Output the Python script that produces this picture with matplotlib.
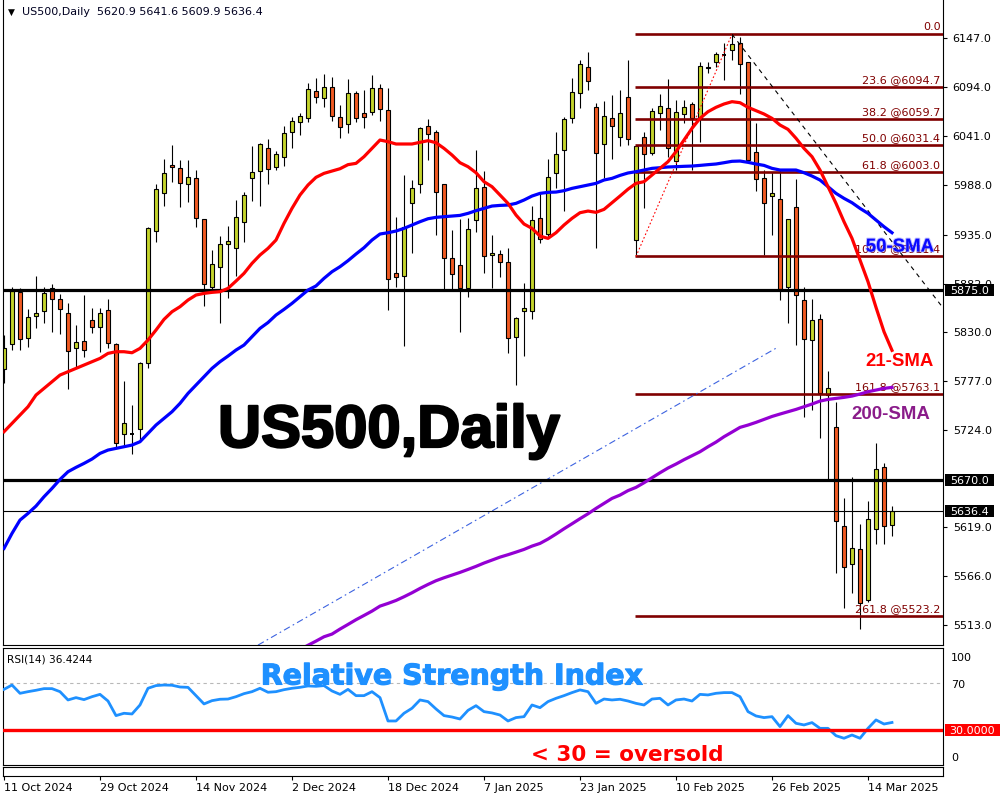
import numpy as np
import matplotlib
matplotlib.use("Agg")
import matplotlib.pyplot as plt
from matplotlib.patches import Rectangle
from matplotlib.transforms import blended_transform_factory
import matplotlib.patheffects as pe

# ---------------- daily OHLC (bar index 0 = 11 Oct 2024) ----------------
opens = [5789.5, 5816.4, 5872.6, 5822.9, 5847.0, 5852.4, 5876.9, 5865.0, 5849.9, 5812.1,
         5819.7, 5842.7, 5835.5, 5853.5, 5816.8, 5719.2, 5720.0, 5724.6, 5795.9, 5939.2,
         5980.2, 6010.1, 6006.5, 5989.2, 5995.7, 5951.4, 5878.7, 5900.3, 5924.4, 5920.8,
         5948.9, 5996.4, 6004.0, 6028.1, 6008.3, 6019.1, 6046.1, 6056.2, 6060.5, 6090.0,
         6082.1, 6094.0, 6062.3, 6054.4, 6087.5, 6065.9, 6067.0, 6092.9, 6069.5, 5893.1,
         5890.6, 5968.7, 5989.2, 6052.2, 6045.4, 5989.2, 5909.3, 5902.1, 5876.9, 5950.7,
         5986.7, 5912.9, 5913.6, 5905.0, 5824.7, 5852.8, 5852.8, 5952.5, 5935.2, 6001.1,
         6026.3, 6060.5, 6087.5, 6116.3, 6073.1, 6032.4, 6061.2, 6040.7, 6083.2, 5929.1,
         6040.0, 6022.7, 6066.6, 6071.3, 6014.4, 6064.8, 6075.6, 6060.5, 6116.3, 6121.7,
         6129.0, 6134.3, 6141.5, 6121.0, 6024.5, 5995.7, 5977.0, 5973.0, 5878.7, 5964.4,
         5864.3, 5821.1, 5843.4, 5761.7, 5726.8, 5620.2, 5578.8, 5595.0, 5540.3, 5616.6,
         5683.6, 5620.9]
highs = [5826.6, 5878.7, 5876.9, 5854.2, 5890.2, 5878.7, 5881.2, 5870.4, 5860.7, 5837.3,
         5869.7, 5856.0, 5855.3, 5865.0, 5817.5, 5776.8, 5750.9, 5797.7, 5942.8, 5989.6,
         6016.6, 6031.7, 6015.5, 6015.5, 6004.7, 5952.0, 5918.3, 5933.4, 5944.2, 5972.3,
         5980.6, 6030.6, 6034.2, 6038.2, 6025.2, 6052.2, 6062.3, 6065.9, 6098.3, 6103.7,
         6108.4, 6104.8, 6074.9, 6102.6, 6090.4, 6091.1, 6107.3, 6097.2, 6092.9, 5954.3,
         5999.3, 5993.9, 6051.5, 6060.1, 6047.9, 5990.0, 5939.9, 5951.8, 5952.5, 6026.3,
         6003.6, 5934.5, 5918.3, 5920.1, 5846.3, 5882.3, 5965.8, 5981.3, 6016.2, 6045.4,
         6061.6, 6103.7, 6123.5, 6131.8, 6076.7, 6079.2, 6085.7, 6091.1, 6123.5, 6030.6,
         6046.1, 6071.3, 6086.8, 6102.6, 6080.3, 6080.3, 6078.5, 6121.7, 6121.7, 6132.5,
         6141.5, 6151.3, 6148.7, 6121.7, 6055.1, 6004.7, 6002.9, 6004.7, 5952.0, 5994.6,
         5878.7, 5865.0, 5849.2, 5787.6, 5754.5, 5650.1, 5673.5, 5622.0, 5647.2, 5709.5,
         5687.9, 5641.6]
lows = [5774.4, 5810.3, 5810.3, 5813.9, 5833.7, 5839.1, 5830.1, 5827.2, 5767.8, 5792.3,
        5803.1, 5829.0, 5808.5, 5812.1, 5705.9, 5707.0, 5698.0, 5713.1, 5790.5, 5927.3,
        5966.2, 5992.1, 5965.1, 5970.5, 5943.5, 5858.2, 5873.3, 5839.8, 5866.1, 5890.6,
        5927.3, 5971.6, 5966.2, 5989.6, 6004.7, 6009.4, 6028.8, 6042.5, 6056.9, 6077.4,
        6073.1, 6058.0, 6038.9, 6045.0, 6056.5, 6050.4, 6064.1, 6058.0, 5853.5, 5878.7,
        5814.6, 5914.7, 5980.2, 6015.5, 5934.5, 5876.0, 5876.0, 5830.1, 5867.2, 5938.1,
        5893.1, 5876.9, 5889.5, 5807.4, 5772.5, 5803.8, 5843.4, 5925.5, 5930.9, 5984.9,
        5960.8, 6055.1, 6071.3, 6091.1, 5920.8, 5996.4, 6016.2, 6030.6, 6031.7, 5911.4,
        5963.3, 6020.9, 6047.9, 6019.1, 6004.7, 6055.0, 6004.7, 6035.3, 6109.1, 6116.3,
        6101.9, 6123.5, 6086.8, 6014.0, 5982.4, 5912.9, 5935.0, 5864.3, 5839.8, 5815.7,
        5738.3, 5745.5, 5715.6, 5669.9, 5569.8, 5531.3, 5548.2, 5508.6, 5538.5, 5600.4,
        5600.4, 5609.9]
closes = [5812.2, 5874.4, 5821.8, 5845.6, 5849.9, 5871.5, 5865.0, 5854.2, 5809.2, 5818.6,
          5809.9, 5834.8, 5849.9, 5817.5, 5709.5, 5731.1, 5720.0, 5795.9, 5941.7, 5983.8,
          6001.1, 6007.6, 5991.0, 5996.8, 5952.5, 5881.2, 5902.8, 5924.4, 5928.0, 5953.6,
          5977.7, 6002.2, 6032.8, 6005.4, 6021.6, 6044.3, 6057.6, 6063.0, 6091.8, 6083.2,
          6094.0, 6063.0, 6050.8, 6087.5, 6060.5, 6062.3, 6092.9, 6070.2, 5886.6, 5888.8,
          5943.5, 5984.9, 6049.7, 6043.2, 5981.3, 5909.3, 5892.0, 5876.9, 5940.6, 5984.9,
          5911.8, 5915.4, 5905.0, 5822.9, 5844.5, 5855.3, 5950.7, 5929.8, 5996.8, 6021.6,
          6059.8, 6088.6, 6118.8, 6100.8, 6022.7, 6063.4, 6052.2, 6065.9, 6037.8, 6030.6,
          6021.6, 6068.4, 6073.8, 6028.8, 6067.7, 6072.4, 6061.2, 6117.0, 6114.5, 6130.0,
          6129.0, 6140.8, 6118.8, 6015.5, 5994.6, 5968.7, 5979.5, 5875.8, 5951.4, 5869.7,
          5821.8, 5842.7, 5763.5, 5768.9, 5626.0, 5575.6, 5596.1, 5536.7, 5627.4, 5681.4,
          5620.6, 5636.4]

# ---------------- moving averages ----------------
sma21 = [5722.1, 5731.1, 5740.1, 5749.1, 5761.7, 5768.9, 5776.1, 5783.3, 5786.9, 5790.5,
         5794.1, 5797.7, 5801.3, 5806.7, 5808.5, 5808.5, 5807.4, 5812.1, 5821.1, 5831.9,
         5843.4, 5851.7, 5857.1, 5864.3, 5869.7, 5871.5, 5872.6, 5873.3, 5876.9, 5884.8,
         5893.1, 5903.9, 5912.9, 5920.1, 5929.1, 5947.1, 5963.3, 5977.7, 5988.5, 5996.8,
         6001.1, 6003.6, 6006.1, 6010.5, 6011.9, 6019.1, 6028.1, 6037.1, 6035.3, 6032.8,
         6032.8, 6032.8, 6034.6, 6036.4, 6034.2, 6028.1, 6020.9, 6012.6, 6008.3, 6001.8,
         5992.1, 5986.7, 5977.7, 5968.7, 5956.1, 5946.4, 5941.7, 5933.4, 5930.9, 5937.0,
         5945.3, 5952.5, 5958.6, 5960.4, 5959.0, 5962.2, 5969.4, 5976.6, 5984.0, 5990.3,
         5992.1, 5999.3, 6006.5, 6013.7, 6024.5, 6037.1, 6049.7, 6060.5, 6067.7, 6072.4,
         6076.0, 6078.5, 6077.4, 6072.4, 6068.8, 6065.2, 6060.5, 6053.3, 6048.6, 6039.0,
         6028.1, 6019.1, 6004.7, 5986.7, 5968.7, 5948.9, 5930.9, 5907.5, 5884.1, 5856.4,
         5830.1, 5810.0]
sma50 = [5596.1, 5612.3, 5626.7, 5633.9, 5641.8, 5651.9, 5660.9, 5670.6, 5678.9, 5683.6,
         5687.9, 5692.6, 5698.7, 5702.3, 5704.1, 5705.9, 5707.7, 5711.3, 5720.3, 5729.3,
         5736.5, 5743.7, 5752.7, 5763.5, 5772.5, 5781.5, 5790.5, 5797.7, 5803.8, 5810.3,
         5815.7, 5824.7, 5833.7, 5840.0, 5848.1, 5854.2, 5860.7, 5867.9, 5875.1, 5879.5,
         5887.7, 5894.9, 5900.3, 5906.8, 5914.0, 5920.8, 5929.1, 5935.6, 5937.0, 5938.8,
         5941.7, 5945.3, 5948.9, 5952.1, 5953.6, 5954.3, 5955.0, 5955.7, 5957.9, 5960.8,
         5963.3, 5965.8, 5966.5, 5966.9, 5968.7, 5972.3, 5976.6, 5979.5, 5980.6, 5980.9,
         5982.4, 5984.9, 5986.7, 5988.5, 5990.3, 5993.9, 5995.7, 5998.9, 6001.5, 6002.9,
         6004.7, 6006.5, 6007.2, 6008.0, 6008.3, 6008.7, 6009.0, 6009.7, 6010.5, 6011.2,
         6012.6, 6014.1, 6014.4, 6013.0, 6011.2, 6009.7, 6006.5, 6004.7, 6004.7, 6004.7,
         6001.8, 5998.2, 5993.9, 5986.7, 5979.5, 5974.1, 5969.4, 5963.3, 5957.9, 5950.7,
         5943.5, 5937.0]
sma200 = [np.nan] * 37 + [
         5487.0, 5491.5, 5496.0, 5500.7, 5503.6, 5509.0, 5514.0, 5519.1, 5523.7, 5528.4,
         5533.8, 5536.7, 5539.9, 5543.9, 5548.2, 5552.9, 5557.2, 5561.2, 5564.4, 5567.3,
         5570.2, 5573.4, 5576.7, 5580.3, 5583.5, 5586.7, 5589.3, 5592.1, 5595.0, 5598.6,
         5601.5, 5606.2, 5611.6, 5617.3, 5622.7, 5628.2, 5633.5, 5639.3, 5644.7, 5650.1,
         5653.7, 5658.5, 5662.0, 5667.0, 5672.4, 5677.8, 5682.9, 5687.2, 5691.9, 5696.2,
         5700.5, 5705.9, 5710.9, 5716.7, 5721.7, 5726.8, 5729.3, 5732.2, 5735.4, 5738.6,
         5741.2, 5743.7, 5746.2, 5749.1, 5752.0, 5755.2, 5757.0, 5758.1, 5759.2, 5760.6,
         5762.8, 5765.3, 5767.1, 5768.9, 5770.0]

# ---------------- RSI(14) ----------------
rsi = [64.8, 68.5, 61.4, 62.8, 64.0, 65.4, 65.4, 62.8, 55.7, 57.7,
       56.0, 58.5, 60.5, 54.8, 42.3, 44.3, 43.7, 51.4, 65.7, 68.0,
       68.5, 68.3, 66.8, 66.5, 59.4, 52.3, 55.1, 56.3, 56.5, 58.5,
       61.1, 62.8, 65.7, 62.3, 62.8, 64.5, 65.7, 66.5, 67.7, 67.4,
       68.0, 63.4, 60.5, 64.8, 59.4, 59.4, 62.8, 57.7, 37.7, 37.7,
       44.3, 48.6, 55.7, 54.3, 48.0, 42.3, 41.1, 39.4, 46.8, 50.8,
       45.7, 44.6, 42.8, 37.7, 40.6, 41.4, 51.4, 49.1, 54.3, 57.1,
       59.4, 62.0, 64.3, 62.8, 52.8, 56.5, 55.7, 56.3, 54.8, 52.8,
       51.4, 56.5, 57.1, 51.4, 55.7, 56.5, 54.8, 60.5, 60.0, 61.4,
       62.0, 62.0, 58.5, 45.7, 42.0, 40.6, 41.4, 32.9, 42.3, 35.7,
       34.3, 36.3, 31.4, 31.4, 25.1, 22.9, 25.7, 22.9, 31.4, 38.6,
       35.1, 36.42]

# ---------------- Fibonacci levels and chart levels ----------------
fib_pcts = ["0.0", "23.6", "38.2", "50.0", "61.8", "100.0", "161.8", "261.8"]
fib_prices = [6151.3, 6094.7, 6059.7, 6031.4, 6003.0, 5911.4, 5763.1, 5523.2]
fib_start_bar = 79
level_lines = [5875.0, 5670.0]
last_price = 5636.4

# trend lines (bar index, price)
fib_swing = ([79, 91], [5911.4, 6151.3])
down_line = ([91, 117.3], [6151.3, 5856.7])
channel_line = ([31.75, 96.75], [5491.7, 5813.5])

price_ticks = [5513, 5566, 5619, 5724, 5777, 5830, 5882, 5935, 5988, 6041, 6094, 6147]
date_ticks = [0, 12, 24, 36, 48, 60, 72, 84, 96, 108]
date_labels = ["11 Oct 2024", "29 Oct 2024", "14 Nov 2024", "2 Dec 2024", "18 Dec 2024",
               "7 Jan 2025", "23 Jan 2025", "10 Feb 2025", "26 Feb 2025", "14 Mar 2025"]

BULL = "#c4d42c"
BEAR = "#f15a22"
FIB = "#800000"

W, H = 1000, 800
plt.rcParams["font.family"] = ["DejaVu Sans"]
fig = plt.figure(figsize=(W / 100, H / 100), dpi=100)
fig.patch.set_facecolor("white")


def fx(px):
    return px / W


def fy(py):
    return 1 - py / H


L, R = 3, 943
ax = fig.add_axes([fx(L), fy(645), (R - L) / W, 645 / H])
axr = fig.add_axes([fx(L), fy(765), (R - L) / W, (765 - 648) / H])
axt = fig.add_axes([fx(L), fy(776), (R - L) / W, (776 - 767) / H])

n = len(opens)
idx = np.arange(n)
XL = (-0.125, 117.375)

# ---------------- candles ----------------
for i in idx:
    o, h, l, c = opens[i], highs[i], lows[i], closes[i]
    ax.vlines(i, l, h, color="black", lw=0.8, zorder=2)
    if c == o:
        ax.hlines(o, i - 0.3, i + 0.3, color="black", lw=1.4, zorder=2.5)
    else:
        ax.add_patch(Rectangle((i - 0.28, min(o, c)), 0.56, abs(c - o),
                               facecolor=BULL if c > o else BEAR,
                               edgecolor="black", lw=0.8, zorder=2.5))

# ---------------- levels ----------------
for lv in level_lines:
    ax.axhline(lv, color="black", lw=2.3, zorder=5)
ax.axhline(last_price, color="black", lw=0.8, zorder=5)

ax.hlines(fib_prices, fib_start_bar - 0.15, XL[1], color=FIB, lw=1.9, zorder=4)
for pct, pr in zip(fib_pcts, fib_prices):
    lab = pct if pct == "0.0" else f"{pct} @{pr:.1f}"
    ax.text(0.9973, pr + 2.0, lab, transform=blended_transform_factory(ax.transAxes, ax.transData),
            ha="right", va="bottom", color=FIB, fontsize=8, zorder=6)

ax.plot(*fib_swing, color="red", lw=0.8, ls=(0, (1.5, 2)), zorder=4)
ax.plot(*down_line, color="black", lw=0.8, ls=(0, (4, 4)), zorder=4)
ax.plot(*channel_line, color="#3d63e0", lw=0.8, ls=(0, (6, 3, 1.5, 3)), zorder=4)

# ---------------- moving averages ----------------
ax.plot(idx, sma200, color="#9400d3", lw=2.3, zorder=6)
ax.plot(idx, sma50, color="#0000ff", lw=2.3, zorder=6)
ax.plot(idx, sma21, color="#ff0000", lw=2.3, zorder=6)

ax.set_xlim(*XL)
ax.set_ylim(5491.8, 6188.3)
ax.set_xticks([])
ax.yaxis.tick_right()
ax.set_yticks(price_ticks)
ax.set_yticklabels([f"{v:.1f}" for v in price_ticks])
ax.tick_params(axis="y", direction="out", length=3, width=0.8, pad=4, labelsize=8)
ax.spines["top"].set_visible(False)
for s in ("left", "right", "bottom"):
    ax.spines[s].set_linewidth(0.8)

# price tags on the right scale
tr_main = blended_transform_factory(fig.transFigure, ax.transData)
for val, txt in [(5875.0, "5875.0"), (5670.0, "5670.0"), (last_price, "5636.4")]:
    fig.add_artist(Rectangle((fx(945), val - 6.8), 49 / W, 13.6, transform=tr_main,
                             facecolor="black", edgecolor="none", zorder=10))
    fig.text(fx(950), val, txt, transform=tr_main, color="white", fontsize=8,
             va="center_baseline", ha="left", zorder=11)

# ---------------- RSI panel ----------------
axr.plot(idx, rsi, color="#1e90ff", lw=2.0, zorder=3)
axr.axhline(70, color="#b8b8b8", lw=0.8, ls=(0, (3, 3)), zorder=1)
axr.axhline(30, color="#ff0000", lw=2.4, zorder=4)
axr.set_xlim(*XL)
axr.set_ylim(0, 100.2)
axr.set_xticks([])
axr.set_yticks([])
for s in axr.spines.values():
    s.set_linewidth(0.8)

tr_rsi = blended_transform_factory(fig.transFigure, axr.transData)
fig.add_artist(Rectangle((fx(945), 30 - 5.45), 55 / W, 10.9, transform=tr_rsi,
                         facecolor="#ff0000", edgecolor="none", zorder=10))
fig.text(fx(949), 30, "30.0000", transform=tr_rsi, color="white", fontsize=8,
         va="center_baseline", ha="left", zorder=11)
fig.text(fx(951), fy(657), "100", fontsize=8, va="center_baseline")
fig.text(fx(951), fy(683.5), "70", fontsize=8, va="center_baseline")
fig.text(fx(951), fy(757), "0", fontsize=8, va="center_baseline")
fig.text(fx(7), fy(658), "RSI(14) 36.4244", fontsize=7.6, va="center_baseline")

# ---------------- time scale ----------------
axt.set_xlim(*XL)
axt.set_yticks([])
axt.set_xticks(date_ticks)
axt.set_xticklabels(date_labels)
plt.setp(axt.get_xticklabels(), ha="left")
axt.tick_params(axis="x", direction="out", length=3, width=0.8, pad=2, labelsize=8)
for s in axt.spines.values():
    s.set_linewidth(0.8)

# ---------------- annotations ----------------
fig.text(fx(8), fy(12), "\u25bc", fontsize=6.5, va="center")
fig.text(fx(22), fy(12), "US500,Daily  5620.9 5641.6 5609.9 5636.4", fontsize=8, va="center",
         color="#000020")

fig.text(fx(389), fy(447), "US500,Daily", family="Liberation Sans", fontsize=43,
         fontweight="bold", ha="center", va="baseline", color="black",
         path_effects=[pe.withStroke(linewidth=1.6, foreground="black")])
fig.text(fx(452), fy(684.5), "Relative Strength Index", fontsize=20.5, fontweight="bold",
         ha="center", va="baseline", color="#1e90ff",
         path_effects=[pe.withStroke(linewidth=0.8, foreground="#1e90ff")])
fig.text(fx(627), fy(761), "< 30 = oversold", fontsize=15.5, fontweight="bold",
         ha="center", va="baseline", color="#ff0000")

fig.text(fx(900), fy(251.5), "50-SMA", family="Liberation Sans", fontsize=13.4,
         fontweight="bold", ha="center", va="baseline", color="#0a0aff", zorder=12,
         path_effects=[pe.withStroke(linewidth=1.5, foreground="#8080ff", alpha=0.5)])
fig.text(fx(900), fy(366), "21-SMA", family="Liberation Sans", fontsize=13.4,
         fontweight="bold", ha="center", va="baseline", color="#ff0000", zorder=12)
fig.text(fx(891), fy(419), "200-SMA", family="Liberation Sans", fontsize=13.4,
         fontweight="bold", ha="center", va="baseline", color="#8a1c8a", zorder=12)

fig.savefig("out.png", dpi=100, facecolor="white")
